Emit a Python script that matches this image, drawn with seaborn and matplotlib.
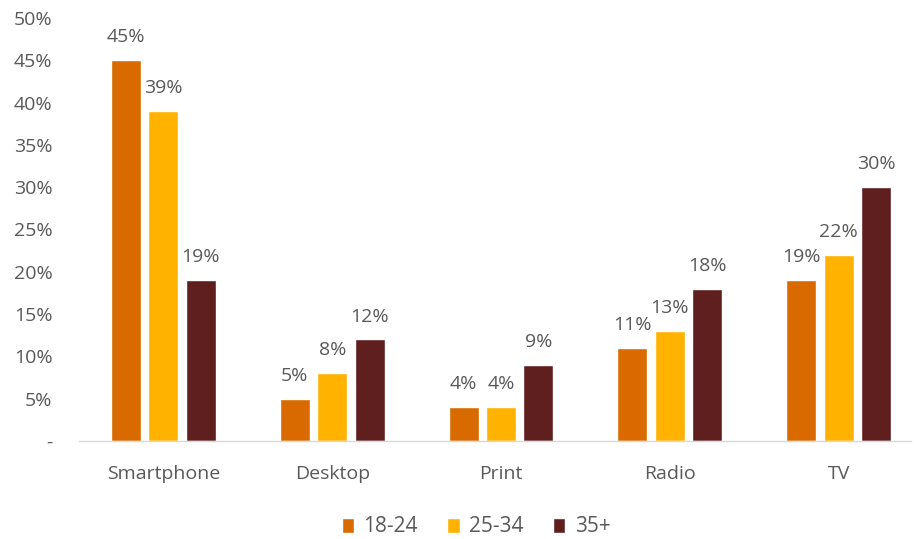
import matplotlib
matplotlib.use("Agg")
import matplotlib.pyplot as plt
import seaborn as sns
import pandas as pd

categories = ["Smartphone", "Desktop", "Print", "Radio", "TV"]
age_groups = ["18-24", "25-34", "35+"]
share_18_24 = [45, 5, 4, 11, 19]
share_25_34 = [39, 8, 4, 13, 22]
share_35_plus = [19, 12, 9, 18, 30]
y_ticks = [0, 5, 10, 15, 20, 25, 30, 35, 40, 45, 50]
y_tick_labels = ["-", "5%", "10%", "15%", "20%", "25%", "30%", "35%", "40%", "45%", "50%"]

palette = ["#D96A00", "#FFB300", "#5F1F1E"]
text_gray = "#595959"

rows = []
for grp, vals in zip(age_groups, [share_18_24, share_25_34, share_35_plus]):
    for cat, v in zip(categories, vals):
        rows.append({"Channel": cat, "Age": grp, "Share": v})
df = pd.DataFrame(rows)

sns.set_theme(style="white")
plt.rcParams["font.family"] = ["Open Sans", "DejaVu Sans"]

fig = plt.figure(figsize=(9.14, 5.39), dpi=100)
ax = fig.add_axes([79 / 914, 1 - 441 / 539, 844 / 914, 423 / 539])

sns.barplot(data=df, x="Channel", y="Share", hue="Age", hue_order=age_groups,
            order=categories, palette=palette, width=0.666, saturation=1,
            ax=ax, legend=True)

# narrow each bar so adjacent bars in a group have a small gap
for patch in ax.patches:
    w = patch.get_width()
    if w == 0:
        continue
    new_w = w * 0.80
    patch.set_x(patch.get_x() + (w - new_w) / 2)
    patch.set_width(new_w)

for container in ax.containers:
    ax.bar_label(container, labels=[f"{v:.0f}%" for v in container.datavalues],
                 padding=10, fontsize=14, color=text_gray)

ax.set_ylim(0, 50)
ax.set_xlim(-0.5, 4.5)
ax.set_yticks(y_ticks)
ax.set_yticklabels(y_tick_labels)
ax.set_xlabel("")
ax.set_ylabel("")
ax.tick_params(axis="both", labelsize=14, colors=text_gray, length=0)
ax.tick_params(axis="y", pad=19)
ax.tick_params(axis="x", pad=17)

for side in ["top", "right", "left"]:
    ax.spines[side].set_visible(False)
ax.spines["bottom"].set_color("#D9D9D9")
ax.spines["bottom"].set_linewidth(1)
ax.spines["bottom"].set_bounds(-0.5, 4.43)

handles, labels = ax.get_legend_handles_labels()
ax.legend_.remove()
fig.legend(handles, labels, loc="center", bbox_to_anchor=(476 / 914, 1 - 527 / 539),
           ncol=3, frameon=False, fontsize=15, handlelength=0.6, handleheight=0.7,
           handletextpad=0.45, columnspacing=1.4, labelcolor=text_gray)

fig.savefig("out.png", dpi=100)
